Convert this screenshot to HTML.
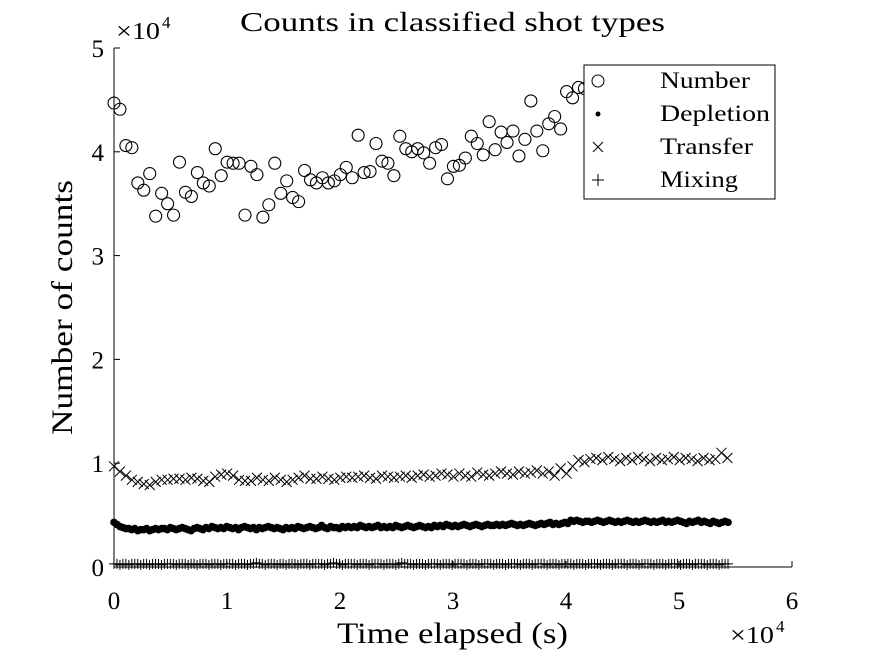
<!DOCTYPE html>
<html><head><meta charset="utf-8"><style>
body{margin:0;background:#fff}
svg{display:block;font-family:"Liberation Serif",serif}
</style></head><body>
<svg id="chart" width="875" height="656" viewBox="0 0 875 656" xmlns="http://www.w3.org/2000/svg">
<rect width="875" height="656" fill="#fff"/>
<text x="240" y="31" font-size="27" textLength="425" lengthAdjust="spacingAndGlyphs">Counts in classified shot types</text>
<text x="116" y="39" font-size="24" textLength="44" lengthAdjust="spacingAndGlyphs">×10</text>
<text x="162" y="28" font-size="17">4</text>
<text x="730" y="643" font-size="24" textLength="44" lengthAdjust="spacingAndGlyphs">×10</text>
<text x="776" y="632" font-size="17">4</text>
<text transform="translate(72,435) rotate(-90)" font-size="30" textLength="255" lengthAdjust="spacingAndGlyphs">Number of counts</text>
<text x="337" y="643" font-size="30" textLength="231" lengthAdjust="spacingAndGlyphs">Time elapsed (s)</text>
<g id="axes"></g>
<g id="marks"></g>
<g id="legend">
<rect x="584" y="65" width="191" height="134" fill="#fff" stroke="#000" stroke-width="1"/>
<circle cx="598" cy="81" r="6" fill="none" stroke="#000"/>
<text x="660" y="88" font-size="23" textLength="90" lengthAdjust="spacingAndGlyphs">Number</text>
<circle cx="598" cy="114" r="2.5" fill="#000"/>
<text x="660" y="121" font-size="23" textLength="110" lengthAdjust="spacingAndGlyphs">Depletion</text>
<path d="M593,142 L603,152 M593,152 L603,142" stroke="#000"/>
<text x="660" y="154" font-size="23" textLength="93" lengthAdjust="spacingAndGlyphs">Transfer</text>
<path d="M592,180 L604,180 M598,174 L598,186" stroke="#000"/>
<text x="660" y="187" font-size="23" textLength="78" lengthAdjust="spacingAndGlyphs">Mixing</text>
</g>
</svg>
<script>
const xTicks=[0,1,2,3,4,5,6];
const yTicks=[0,1,2,3,4,5];
const numberVals=[4.47,4.41,4.06,4.04,3.70,3.63,3.79,3.38,3.60,3.50,3.39,3.90,3.61,3.57,3.80,3.70,3.67,4.03,3.77,3.90,3.89,3.89,3.39,3.86,3.78,3.37,3.49,3.89,3.60,3.72,3.56,3.52,3.82,3.73,3.70,3.75,3.70,3.72,3.78,3.85,3.75,4.16,3.80,3.81,4.08,3.91,3.89,3.77,4.15,4.03,4.00,4.03,3.99,3.89,4.04,4.07,3.74,3.86,3.87,3.94,4.15,4.08,3.97,4.29,4.02,4.19,4.09,4.20,3.96,4.12,4.49,4.20,4.01,4.27,4.34,4.22,4.58,4.52,4.62,4.61,4.60,4.65,4.58,4.70,4.62,4.66,4.55,4.63,4.70,4.64,4.60,4.68,4.72,4.62,4.66,4.70,4.60,4.68,4.72,4.64,4.70,4.66,4.60,4.71];
const transferVals=[0.97,0.92,0.88,0.84,0.82,0.80,0.79,0.82,0.84,0.84,0.85,0.85,0.84,0.86,0.85,0.83,0.82,0.87,0.89,0.90,
0.88,0.84,0.83,0.83,0.86,0.84,0.83,0.86,0.84,0.82,0.84,0.86,0.88,0.85,0.85,0.87,0.85,0.84,0.86,0.87,
0.86,0.87,0.88,0.86,0.85,0.88,0.87,0.86,0.87,0.88,0.86,0.88,0.89,0.87,0.88,0.90,0.89,0.87,0.90,0.88,
0.87,0.91,0.89,0.88,0.90,0.92,0.90,0.89,0.92,0.90,0.91,0.93,0.90,0.92,0.88,0.95,
0.90,0.97,1.03,1.01,1.04,1.05,1.03,1.06,1.04,1.02,1.05,1.03,1.06,1.04,1.02,1.05,1.03,1.04,1.06,1.03,1.05,1.04,1.02,1.05,1.03,1.04,1.10,1.05];
const depletionVals=[0.43,0.41,0.39,0.38,0.37,0.37,0.36,0.37,0.35,0.36,0.36,0.37,0.35,0.36,0.37,0.36,0.37,0.37,0.36,0.38,
0.37,0.36,0.37,0.38,0.37,0.36,0.35,0.37,0.38,0.37,0.36,0.38,0.37,0.39,0.38,0.37,0.38,0.37,0.39,0.38,
0.37,0.38,0.36,0.38,0.39,0.38,0.37,0.38,0.36,0.38,0.37,0.38,0.39,0.38,0.37,0.38,0.37,0.36,0.38,0.37,
0.38,0.37,0.39,0.38,0.37,0.38,0.39,0.38,0.37,0.38,0.40,0.38,0.37,0.39,0.38,0.38,0.37,0.39,0.38,0.39,
0.38,0.39,0.38,0.40,0.39,0.38,0.39,0.38,0.39,0.40,0.38,0.39,0.38,0.39,0.38,0.40,0.39,0.38,0.39,0.40,
0.39,0.38,0.39,0.40,0.39,0.38,0.39,0.38,0.40,0.39,0.40,0.39,0.41,0.40,0.39,0.40,0.39,0.40,0.41,0.40,
0.39,0.40,0.41,0.40,0.39,0.40,0.41,0.40,0.40,0.41,0.40,0.41,0.40,0.41,0.42,0.41,0.40,0.41,0.40,0.41,
0.42,0.41,0.40,0.41,0.42,0.41,0.42,0.43,0.41,0.42,0.41,0.42,0.43,0.42,0.45,0.44,0.45,0.44,0.43,0.44,
0.44,0.43,0.44,0.45,0.44,0.43,0.44,0.45,0.44,0.43,0.44,0.43,0.44,0.45,0.44,0.43,0.44,0.43,0.44,0.45,
0.44,0.43,0.44,0.43,0.44,0.45,0.43,0.44,0.43,0.44,0.45,0.44,0.43,0.42,0.44,0.43,0.44,0.45,0.43,0.44,0.43,0.42,0.44,0.43,0.42,0.43,0.44,0.43];
const mixingVals=[0.03,0.03,0.02,0.03,0.03,0.02,0.03,0.03,0.03,0.02,0.03,0.03,0.02,0.03,0.03,0.03,0.02,0.03,0.03,0.03,
0.03,0.02,0.03,0.03,0.03,0.02,0.03,0.03,0.02,0.03,0.03,0.03,0.02,0.03,0.03,0.03,0.02,0.03,0.03,0.03,
0.03,0.02,0.03,0.03,0.03,0.02,0.03,0.03,0.04,0.03,0.03,0.02,0.03,0.03,0.03,0.02,0.03,0.03,0.02,0.03,
0.03,0.03,0.02,0.03,0.03,0.03,0.02,0.03,0.03,0.03,0.03,0.02,0.03,0.03,0.04,0.03,0.03,0.02,0.03,0.03,
0.03,0.03,0.02,0.03,0.03,0.03,0.02,0.03,0.03,0.03,0.03,0.02,0.03,0.03,0.03,0.02,0.03,0.04,0.03,0.03,
0.03,0.02,0.03,0.03,0.03,0.02,0.03,0.03,0.03,0.03,0.02,0.03,0.03,0.03,0.02,0.03,0.03,0.03,0.03,0.02,
0.03,0.03,0.03,0.02,0.03,0.03,0.03,0.03,0.02,0.03,0.03,0.03,0.02,0.03,0.03,0.03,0.03,0.02,0.03,0.03,
0.03,0.02,0.03,0.03,0.03,0.03,0.02,0.03,0.03,0.03,0.02,0.03,0.03,0.03,0.03,0.02,0.03,0.03,0.03,0.02,
0.03,0.03,0.03,0.03,0.02,0.03,0.03,0.03,0.02,0.03,0.03,0.03,0.03,0.02,0.03,0.03,0.03,0.02,0.03,0.03,
0.03,0.03,0.02,0.03,0.03,0.03,0.02,0.03,0.03,0.03,0.03,0.02,0.03,0.03,0.03,0.02,0.03,0.03,0.03,0.03,0.02,0.03,0.03,0.03,0.02,0.03,0.03,0.03];
const NS="http://www.w3.org/2000/svg";
const X0=114,X1=792,Y0=567,Y1=48;
function xs(v){return X0+(v-0)/(6-0)*(X1-X0);}
function ys(v){return Y0-(v-0)/(5-0)*(Y0-Y1);}
function mk(tag,attrs,parent){const e=document.createElementNS(NS,tag);for(const k in attrs)e.setAttribute(k,attrs[k]);parent.appendChild(e);return e;}
const axes=document.getElementById('axes');
const marks=document.getElementById('marks');
let a=mk('line',{x1:X0,y1:Y0,x2:X1,y2:Y0,stroke:'#000'},axes);


a=mk('line',{x1:X0,y1:Y0,x2:X0,y2:Y1,stroke:'#000'},axes);


xTicks.forEach(t=>{
  const x=xs(t);
  mk('line',{x1:x,y1:Y0,x2:x,y2:Y0-6,stroke:'#000'},axes);
  const tx=mk('text',{x:x,y:Y0+42,'font-size':25,'text-anchor':'middle'},axes);
  tx.textContent=t;
  
  
});
yTicks.forEach(t=>{
  const y=ys(t);
  mk('line',{x1:X0,y1:y,x2:X0+6,y2:y,stroke:'#000'},axes);
  const tx=mk('text',{x:X0-10,y:y+9,'font-size':25,'text-anchor':'end'},axes);
  tx.textContent=t;
  
  
});
const dtN=0.0527, dtD=0.02625;
mixingVals.forEach((v,i)=>{const x=xs(i*dtD),y=ys(v);
  const p=mk('path',{d:`M${x-5},${y}L${x+5},${y}M${x},${y-5}L${x},${y+5}`,stroke:'#000','stroke-width':1},marks);
  
  });
depletionVals.forEach((v,i)=>{
  const c=mk('circle',{cx:xs(i*dtD),cy:ys(v),r:3.8,fill:'#000'},marks);
  
  });
transferVals.forEach((v,i)=>{const x=xs(i*dtN),y=ys(v);
  const p=mk('path',{d:`M${x-5},${y-5}L${x+5},${y+5}M${x-5},${y+5}L${x+5},${y-5}`,stroke:'#000','stroke-width':1},marks);
  
  });
numberVals.forEach((v,i)=>{
  const c=mk('circle',{cx:xs(i*dtN),cy:ys(v),r:6,fill:'none',stroke:'#000','stroke-width':1.1},marks);
  
  });
document.getElementById('chart').appendChild(document.getElementById('legend'));
</script>
</body></html>
